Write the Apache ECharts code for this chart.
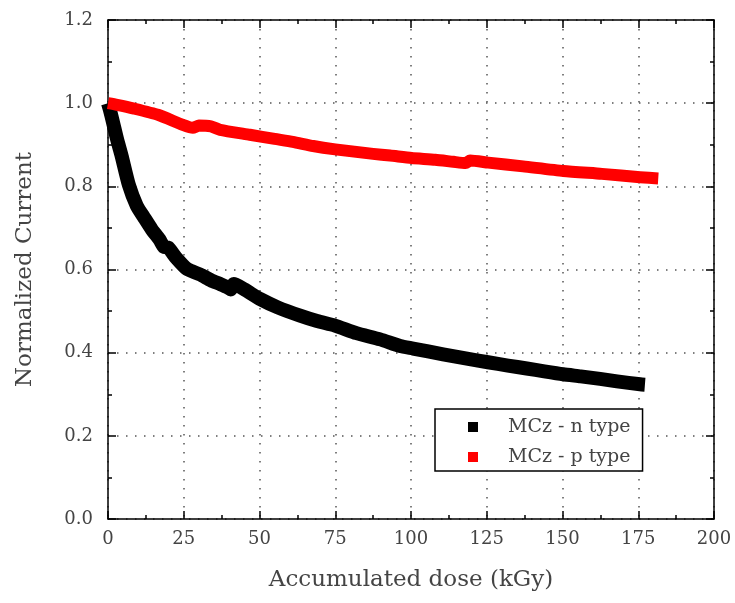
<!DOCTYPE html>
<html>
<head>
<meta charset="utf-8">
<script src="https://cdn.jsdelivr.net/npm/echarts@6/dist/echarts.min.js"></script>
<style>html,body{margin:0;padding:0;background:#fff}#c{width:735px;height:603px}</style>
</head>
<body>
<div id="c"></div>
<script>
// ---- data ----
const seriesNames = ['MCz - n type', 'MCz - p type'];
const xAxisTitle = 'Accumulated dose (kGy)';
const yAxisTitle = 'Normalized Current';

const nDose = [0, 0.6, 1.65, 3.0, 4.5, 6.9, 9.5, 12, 14.4, 17, 18.5, 19.8, 22.5, 26.1, 30.4, 34, 37, 39.5, 40.5, 41.5, 45, 50.2, 56, 63.4, 69, 74.9, 82, 89.8, 96.4, 100.7, 110.6, 118, 125.4, 132, 138.2, 144, 150.2, 156, 162.4, 168, 175.6, 177.2];
const nCurrent = [1.0, 0.985, 0.954, 0.913, 0.873, 0.803, 0.753, 0.724, 0.697, 0.672, 0.654, 0.653, 0.628, 0.601, 0.588, 0.574, 0.565, 0.557, 0.552, 0.565, 0.552, 0.529, 0.509, 0.489, 0.476, 0.465, 0.447, 0.432, 0.416, 0.41, 0.396, 0.386, 0.377, 0.369, 0.362, 0.355, 0.348, 0.343, 0.337, 0.331, 0.324, 0.323];

const pDose = [0, 3, 8.6, 16.5, 24.7, 28, 30, 34, 37, 46.8, 55, 61, 67.7, 75, 87.5, 93.1, 100.2, 108, 114, 118, 119.5, 125.5, 137, 150.3, 163, 175.6, 181.6];
const pCurrent = [1.0, 0.996, 0.987, 0.972, 0.948, 0.941, 0.946, 0.944, 0.936, 0.924, 0.914, 0.907, 0.897, 0.889, 0.878, 0.874, 0.868, 0.864, 0.859, 0.856, 0.862, 0.857, 0.848, 0.837, 0.83, 0.822, 0.819];

const xRange = {min: 0, max: 200, interval: 25};
const yRange = {min: 0, max: 1.2, interval: 0.2};

// ---- chart ----
const FONT = 'DejaVu Serif';
const TXT = '#444';
const tickStyle = {color: '#000', width: 1.5};

function mkAxis(range, extra) {
  return Object.assign({
    type: 'value',
    min: range.min, max: range.max, interval: range.interval,
    axisLine: {show: true, onZero: false, lineStyle: {color: '#000', width: 1.5}},
    axisTick: {show: true, inside: true, length: 8, lineStyle: tickStyle},
    minorTick: {show: true, splitNumber: 2, length: 4, lineStyle: tickStyle},
    splitLine: {show: false},
    axisLabel: {show: false}
  }, extra);
}

const chart = echarts.init(document.getElementById('c'), null, {renderer: 'canvas'});
chart.setOption({
  backgroundColor: '#fff',
  animation: false,
  grid: {left: 108, right: 21, top: 20, bottom: 84, containLabel: false},
  xAxis: [
    mkAxis(xRange, {
      position: 'bottom',
      axisLabel: {show: true, margin: 11, fontFamily: FONT, fontSize: 18, color: TXT},
      splitLine: {show: true, lineStyle: {type: [1.5, 7.5], color: '#555', width: 1.5}},
      name: xAxisTitle, nameLocation: 'middle', nameGap: 50,
      nameTextStyle: {fontFamily: FONT, fontSize: 23, color: TXT}
    }),
    mkAxis(xRange, {position: 'top'})
  ],
  yAxis: [
    mkAxis(yRange, {
      position: 'left',
      axisLabel: {show: true, margin: 15, fontFamily: FONT, fontSize: 18, color: TXT,
        formatter: v => v.toFixed(1)},
      splitLine: {show: true, lineStyle: {type: [1.5, 7.5], color: '#555', width: 1.5}},
      name: yAxisTitle, nameLocation: 'middle', nameGap: 71,
      nameTextStyle: {fontFamily: FONT, fontSize: 23, color: TXT}
    }),
    mkAxis(yRange, {position: 'right'})
  ],
  legend: {
    orient: 'vertical',
    left: 435, top: 409,
    padding: [7, 12, 3, 33],
    itemGap: 8,
    itemWidth: 10, itemHeight: 10,
    icon: 'rect',
    borderColor: '#000', borderWidth: 1.5,
    backgroundColor: '#fff',
    textStyle: {fontFamily: FONT, fontSize: 19, color: TXT, lineHeight: 22, padding: [0, 0, 0, 25]},
    data: seriesNames
  },
  series: [
    {
      name: seriesNames[0], type: 'line', xAxisIndex: 0, yAxisIndex: 0,
      data: nDose.map((x, i) => [x, nCurrent[i]]),
      showSymbol: false, color: '#000', smooth: 0.2,
      lineStyle: {color: '#000', width: 14, cap: 'butt', join: 'round'},
      z: 3
    },
    {
      name: seriesNames[1], type: 'line', xAxisIndex: 0, yAxisIndex: 0,
      data: pDose.map((x, i) => [x, pCurrent[i]]),
      showSymbol: false, color: '#ff0000', smooth: 0.2,
      lineStyle: {color: '#ff0000', width: 12, cap: 'butt', join: 'round'},
      z: 4
    }
  ]
});
</script>
</body>
</html>
